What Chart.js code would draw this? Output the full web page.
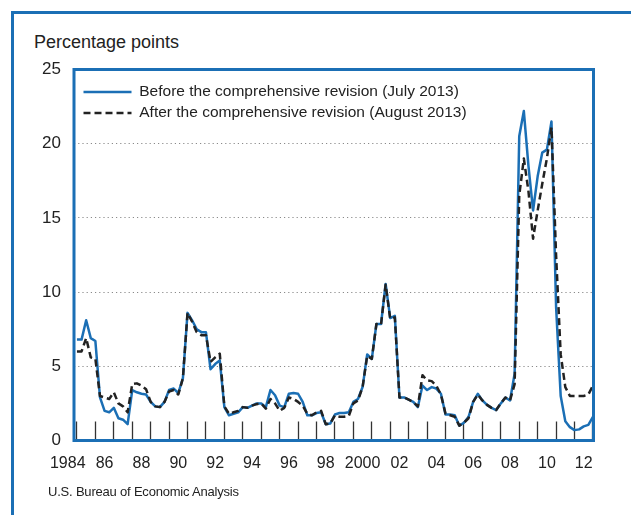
<!DOCTYPE html>
<html>
<head>
<meta charset="utf-8">
<script src="https://cdn.jsdelivr.net/npm/chart.js@4.4.1/dist/chart.umd.min.js"></script>
<style>
  body { margin: 0; background: #fff; }
  .wrap { position: relative; width: 631px; height: 515px; overflow: hidden; }
  .frame { position: absolute; left: 11px; top: 11px; width: 700px; height: 600px;
           border-top: 3px solid #1b6fb5; border-left: 3px solid #1b6fb5; }
  .unit { position: absolute; left: 34px; top: 33px; font: 18px "Liberation Sans", Arial, sans-serif;
          line-height: 18px; color: #222; }
  .source { position: absolute; left: 48px; top: 485px; font: 13px "Liberation Sans", Arial, sans-serif;
            line-height: 14px; color: #222; letter-spacing: -0.2px; }
  canvas { position: absolute; left: 0; top: 0; }
</style>
</head>
<body>
<div class="wrap">
  <div class="frame"></div>
  <div class="unit">Percentage points</div>
  <canvas id="chart" width="631" height="515"></canvas>
  <div class="source">U.S. Bureau of Economic Analysis</div>
</div>
<script>
// quarterly, 1985Q1 .. 2013Q1
const startYear = 1985;
const yearTicks = [1984, 1985, 1986, 1987, 1988, 1989, 1990, 1991, 1992, 1993, 1994, 1995, 1996, 1997, 1998,
  1999, 2000, 2001, 2002, 2003, 2004, 2005, 2006, 2007, 2008, 2009, 2010, 2011, 2012];
const yTicks = [0, 5, 10, 15, 20, 25];

const beforeRevision = [
  6.8, 6.8, 8.1, 6.9,    6.7, 2.9, 2.0, 1.9,    2.2, 1.5, 1.4, 1.1,    3.4, 3.25, 3.15, 3.1,
  2.6, 2.3, 2.25, 2.6,   3.4, 3.5, 3.2, 4.2,    8.6, 8.1, 7.5, 7.3,    7.3, 4.8, 5.15, 5.4,
  2.25, 1.7, 1.8, 1.9,   2.25, 2.2, 2.35, 2.5,  2.5, 2.25, 3.4, 3.05,  2.35, 2.25, 3.15, 3.2,
  3.15, 2.6, 1.7, 1.7,   1.85, 1.9, 1.1, 1.15,  1.75, 1.85, 1.85, 1.9, 2.6, 2.8, 3.6, 5.8,
  5.5, 7.85, 7.85, 10.55, 8.25, 8.4, 2.9, 2.9,  2.75, 2.6, 2.25, 3.7,  3.4, 3.6, 3.5, 3.15,
  1.75, 1.75, 1.7, 1.0,  1.2, 1.6, 2.6, 3.15,   2.7, 2.4, 2.2, 2.05,   2.5, 2.9, 2.7, 4.5,
  20.5, 22.2, 18.5, 15.5, 17.8, 19.4, 19.6, 21.5, 9.0, 3.0, 1.3, 0.9,  0.7, 0.75, 0.95, 1.05,
  1.6
];
const afterRevision = [
  6.0, 6.0, 6.9, 5.6,    5.5, 3.0, 2.9, 2.8,    3.25, 2.5, 2.3, 1.9,   3.8, 3.85, 3.7, 3.45,
  2.6, 2.3, 2.25, 2.6,   3.3, 3.4, 3.1, 4.2,    8.6, 8.0, 7.3, 7.1,    7.1, 5.3, 5.6, 5.85,
  2.3, 1.8, 1.9, 2.0,    2.25, 2.2, 2.35, 2.45, 2.5, 2.15, 2.8, 2.5,   2.0, 2.2, 2.9, 2.8,
  2.6, 2.35, 1.8, 1.7,   1.9, 2.0, 1.1, 1.15,   1.7, 1.6, 1.6, 1.65,   2.5, 2.7, 3.6, 5.7,
  5.5, 7.85, 7.8, 10.5,  8.2, 8.3, 2.9, 2.9,    2.75, 2.6, 2.3, 4.4,   4.05, 4.0, 3.7, 3.1,
  1.8, 1.7, 1.6, 1.0,    1.2, 1.5, 2.6, 3.1,    2.7, 2.4, 2.2, 2.05,   2.5, 2.9, 2.7, 3.8,
  16.5, 19.0, 16.8, 13.6, 15.5, 17.3, 19.0, 21.1, 12.5, 5.8, 3.6, 3.0, 3.0, 3.0, 3.0, 3.1,
  3.7
];

const BLUE = '#1b6fb5';
const toPoints = (arr) => arr.map((v, i) => ({ x: startYear + i / 4, y: v }));

// blue frame around the plot area + legend placement inside it
const plotFrame = {
  id: 'plotFrame',
  afterDatasetsDraw(chart) {
    const { ctx, chartArea: a } = chart;
    ctx.save();
    ctx.strokeStyle = BLUE;
    ctx.lineWidth = 3;
    ctx.strokeRect(a.left, a.top, a.right - a.left, a.bottom - a.top);
    ctx.restore();
  },
  afterLayout(chart) {
    const lg = chart.legend;
    if (lg) {
      lg.left = chart.chartArea.left + 4;
      lg.top = chart.chartArea.top + 9.25;
      lg.bottom = chart.chartArea.bottom;
    }
  }
};

const labelFont = { family: '"Liberation Sans", Arial, sans-serif' };

new Chart(document.getElementById('chart'), {
  type: 'line',
  data: {
    datasets: [{
      label: 'Before the comprehensive revision (July 2013)',
      data: toPoints(beforeRevision),
      borderColor: BLUE,
      borderWidth: 2.5,
      order: 1
    }, {
      label: 'After the comprehensive revision (August 2013)',
      data: toPoints(afterRevision),
      borderColor: '#222',
      borderWidth: 2.5,
      borderDash: [7, 4],
      order: 0
    }]
  },
  options: {
    responsive: false,
    animation: false,
    devicePixelRatio: 1,
    layout: { padding: { left: 34, right: 37.5, top: 69.5, bottom: 34.5 } },
    elements: {
      point: { radius: 0 },
      line: { tension: 0, borderJoinStyle: 'round' }
    },
    scales: {
      x: {
        type: 'linear',
        min: 1984.84,
        max: 2013.03,
        afterBuildTicks: (axis) => {
          axis.ticks = yearTicks.map(y => ({ value: y + 0.5 }));
        },
        afterFit: (axis) => { axis.height = 40; },
        border: { display: false },
        grid: {
          offset: true,
          drawOnChartArea: false,
          drawTicks: true,
          tickLength: -19,
          tickColor: '#333',
          tickWidth: 1.3
        },
        ticks: {
          autoSkip: false,
          maxRotation: 0,
          padding: 32,
          color: '#222',
          font: { ...labelFont, size: 16 },
          callback: (v) => {
            const y = Math.round(v - 0.5);
            if (y % 2) return '';
            if (y === 1984 || y === 2000) return String(y);
            return String(y).slice(2);
          }
        }
      },
      y: {
        min: 0,
        max: 25,
        afterBuildTicks: (axis) => {
          axis.ticks = yTicks.map(v => ({ value: v }));
        },
        afterFit: (axis) => { axis.width = 40; },
        border: { display: false, dash: [1.2, 3] },
        grid: {
          drawTicks: false,
          lineWidth: 1,
          color: (c) => (c.tick && (c.tick.value === 0 || c.tick.value === 25)) ? 'rgba(0,0,0,0)' : '#8a8a8a'
        },
        ticks: {
          padding: 13,
          color: '#222',
          font: { ...labelFont, size: 17 }
        }
      }
    },
    plugins: {
      tooltip: { enabled: false },
      legend: {
        position: 'chartArea',
        align: 'start',
        labels: {
          usePointStyle: true,
          pointStyle: 'line',
          pointStyleWidth: 48,
          padding: 5.5,
          color: '#222',
          font: { ...labelFont, size: 15.5 },
          sort: (a, b) => a.datasetIndex - b.datasetIndex,
          generateLabels: (chart) =>
            Chart.defaults.plugins.legend.labels.generateLabels(chart).map(l => ({
              ...l,
              lineDash: chart.data.datasets[l.datasetIndex].borderDash || [],
              lineWidth: 2.5
            }))
        }
      }
    }
  },
  plugins: [plotFrame]
});
</script>
</body>
</html>
